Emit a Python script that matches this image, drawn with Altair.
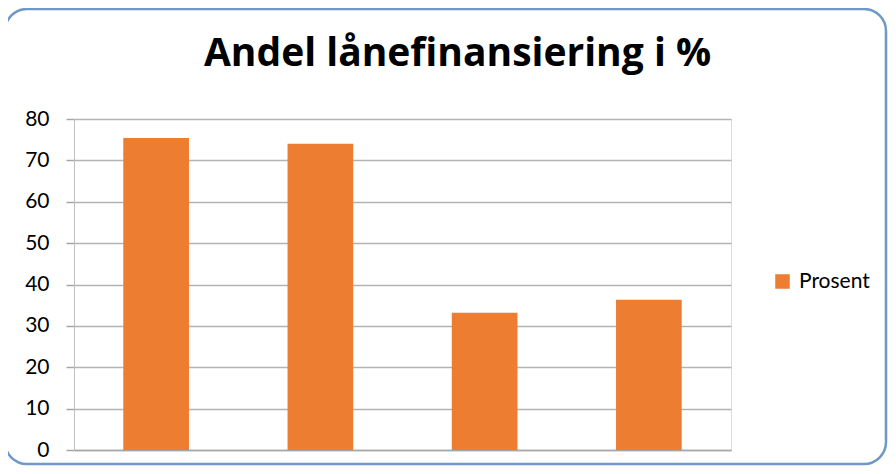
import altair as alt
import pandas as pd

categories = ["1", "2", "3", "4"]
values = [75.4, 74.0, 33.2, 36.3]
series = ["Prosent"] * 4
y_ticks = [0, 10, 20, 30, 40, 50, 60, 70, 80]

df = pd.DataFrame({"kategori": categories, "verdi": values, "serie": series})

W, H = 657, 331
FONT = "Lato"

frame = alt.Chart(pd.DataFrame({"a": [0]})).mark_rect(
    fill="white", fillOpacity=0, stroke="#6f98c8", strokeWidth=2.5, cornerRadius=22
).encode(
    x=alt.value(-69), x2=alt.value(812), y=alt.value(-110), y2=alt.value(345)
)

bars = alt.Chart(df).mark_bar(color="#ED7D31").encode(
    x=alt.X("kategori:N", sort=categories,
            scale=alt.Scale(paddingInner=0.6, paddingOuter=0.3),
            axis=alt.Axis(title=None, labels=False, ticks=False,
                          domainColor="#a6a6a6", domainWidth=1.5, grid=False)),
    y=alt.Y("verdi:Q", scale=alt.Scale(domain=[0, 80], nice=False),
            axis=alt.Axis(title=None, values=y_ticks, grid=True,
                          gridColor="#b3b3b3", gridWidth=1.5,
                          domainColor="#c0c0c0", domainWidth=1,
                          tickColor="#a6a6a6", tickSize=8, tickWidth=1.5,
                          labelFont=FONT, labelFontSize=21, labelColor="#000000",
                          labelPadding=17)),
    color=alt.Color("serie:N", scale=alt.Scale(range=["#ED7D31"]),
                    legend=alt.Legend(title=None, orient="none", legendX=698,
                                      legendY=152, symbolType="square",
                                      symbolSize=210, symbolStrokeWidth=0,
                                      labelFont=FONT, labelFontSize=21,
                                      labelColor="#000000", labelOffset=6)),
)

chart = alt.layer(frame, bars).properties(
    width=W, height=H,
    autosize=alt.AutoSizeParams(type="none"),
    padding={"left": 66, "top": 111, "right": 157, "bottom": 16},
    title=alt.TitleParams("Andel lånefinansiering i %", font="Open Sans", fontSize=39,
                          fontWeight="bold", color="#000000", anchor="middle",
                          dx=55, offset=-97, baseline="alphabetic"),
).configure_view(stroke=None).configure(background="white")

chart.save("out.html", embed_options={"renderer": "svg", "actions": False})
